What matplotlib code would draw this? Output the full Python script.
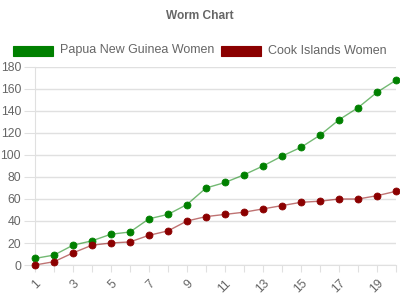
import matplotlib
matplotlib.use("Agg")
import matplotlib.pyplot as plt
from matplotlib.patches import Rectangle

labels = [str(i) for i in range(1, 21)]
png_women = [6, 9, 18, 22, 28, 30, 42, 46, 55, 70, 75, 82, 90, 99, 107, 118, 132, 143, 157, 168]
cook_women = [0, 3, 11, 18, 20, 21, 27, 31, 40, 44, 46, 48, 51, 54, 57, 58, 60, 60, 63, 67]
series_names = ["Papua New Guinea Women", "Cook Islands Women"]
colors = ["#008000", "#8b0000"]

plt.rcParams['font.family'] = ['Liberation Sans', 'DejaVu Sans']
fig = plt.figure(figsize=(4, 3), dpi=100)
W, H = 400, 300
ax = fig.add_axes([35 / W, 1 - 265 / H, (396 - 35) / W, (265 - 67) / H])

x = list(range(len(labels)))
for vals, col, name in zip([png_women, cook_women], colors, series_names):
    ax.plot(x, vals, color=col, alpha=0.55, lw=1.0, zorder=2, clip_on=False)
    ax.plot(x, vals, 'o', color=col, ms=5.0, mec=col, mew=0.6, zorder=3, clip_on=False)

ax.set_xlim(0, len(labels) - 1)
ax.set_ylim(0, 180)
ax.set_yticks(range(0, 181, 20))
ax.set_xticks(x)
ax.set_xticklabels([l if i % 2 == 0 else '' for i, l in enumerate(labels)],
                   rotation=45, ha='right', rotation_mode='anchor')
ax.tick_params(axis='x', length=5, color='#e0e0e0', labelsize=8.8, labelcolor='#666666', pad=4)
ax.tick_params(axis='y', length=8, color='#e0e0e0', labelsize=8.8, labelcolor='#666666', pad=2)
ax.grid(True, axis='y', color='#e0e0e0', lw=1)
ax.grid(False, axis='x')
for s in ['top', 'right']:
    ax.spines[s].set_visible(False)
ax.spines['left'].set_color('#e0e0e0')
ax.spines['bottom'].set_color('#e0e0e0')
ax.set_axisbelow(True)

fig.text(200 / W, 1 - 16 / H, "Worm Chart", ha='center', va='center',
         fontsize=8.6, fontweight='bold', color='#666666')

items = [(13, 60, series_names[0], colors[0]), (221, 268, series_names[1], colors[1])]
for bx, tx, name, col in items:
    fig.patches.append(Rectangle((bx / W, 1 - 56 / H), 40 / W, 10 / H, transform=fig.transFigure,
                                 facecolor=col, edgecolor=col, lw=0.8))
    fig.text(tx / W, 1 - 50.5 / H, name, ha='left', va='center', fontsize=9, color='#666666')

fig.savefig("out.png", dpi=100)
